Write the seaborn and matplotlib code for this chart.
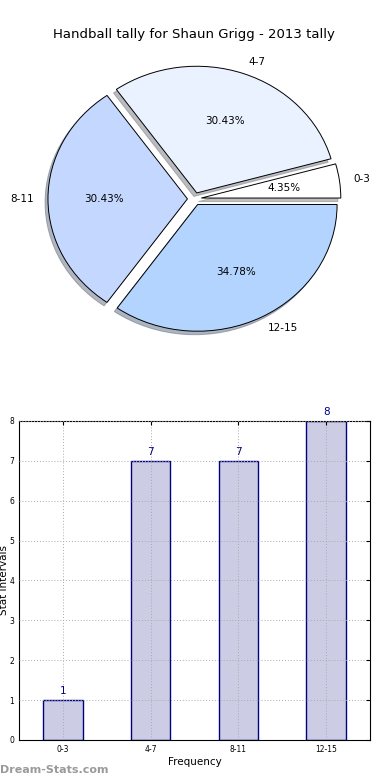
import numpy as np
import pandas as pd
import seaborn as sns
import matplotlib
matplotlib.use("Agg")
import matplotlib.pyplot as plt

# data
intervals = ["0-3", "4-7", "8-11", "12-15"]
counts = [1, 7, 7, 8]
pie_colors = ["#FFFFFF", "#EAF1FF", "#C4D8FF", "#B3D4FF"]
explode = [0.05, 0.05, 0.05, 0.05]

sns.set_style("white")
plt.rcParams["font.family"] = ["DejaVu Sans"]
plt.rcParams["text.color"] = "black"
plt.rcParams["axes.labelcolor"] = "black"
plt.rcParams["xtick.color"] = "black"
plt.rcParams["ytick.color"] = "black"

fig = plt.figure(figsize=(3.9, 7.8), dpi=100)

# pie
ax1 = fig.add_axes([0.0515, 0.542, 0.894, 0.406])
ax1.pie(counts, labels=intervals, colors=pie_colors, explode=explode,
        autopct="%1.2f%%", startangle=0,
        shadow={"ox": -0.015, "oy": -0.02, "shade": 0.5},
        wedgeprops={"edgecolor": "black", "linewidth": 0.7},
        textprops={"fontsize": 7.5, "color": "black"})
ax1.set_aspect("auto")
ax1.set_xlim(-1.25, 1.25)
ax1.set_ylim(-1.25, 1.25)
ax1.set_title("Handball tally for Shaun Grigg - 2013 tally", fontsize=9.5, pad=2)

# bars
df = pd.DataFrame({"interval": intervals, "count": counts})
ax2 = fig.add_axes([0.049, 0.0513, 0.9, 0.409])
sns.barplot(data=df, x="interval", y="count", color="#CCCCE5", saturation=1,
            edgecolor="navy", linewidth=1, width=0.45, ax=ax2)
ax2.set_xlim(-0.5, 3.5)
ax2.set_ylim(0, 8)
ax2.set_yticks(range(0, 9))
ax2.grid(True, linestyle=(0, (1, 2)), color="#aaaaaa", linewidth=0.7)
ax2.set_axisbelow(False)
ax2.tick_params(direction="in", top=True, right=True, labelsize=5.5, length=3)
for s in ax2.spines.values():
    s.set_color("black")
    s.set_linewidth(0.8)
ax2.set_xlabel("Frequency", fontsize=7.5, labelpad=2)
ax2.set_ylabel("Stat Intervals", fontsize=7.5)
ax2.yaxis.set_label_coords(-0.028, 0.5)
ax2.bar_label(ax2.containers[0], color="navy", fontsize=7.5, padding=3)

fig.text(0.0, 0.009, "Dream-Stats.com", color="#9a9a9a", fontsize=8, weight="bold")

fig.savefig("out.png", dpi=100)
